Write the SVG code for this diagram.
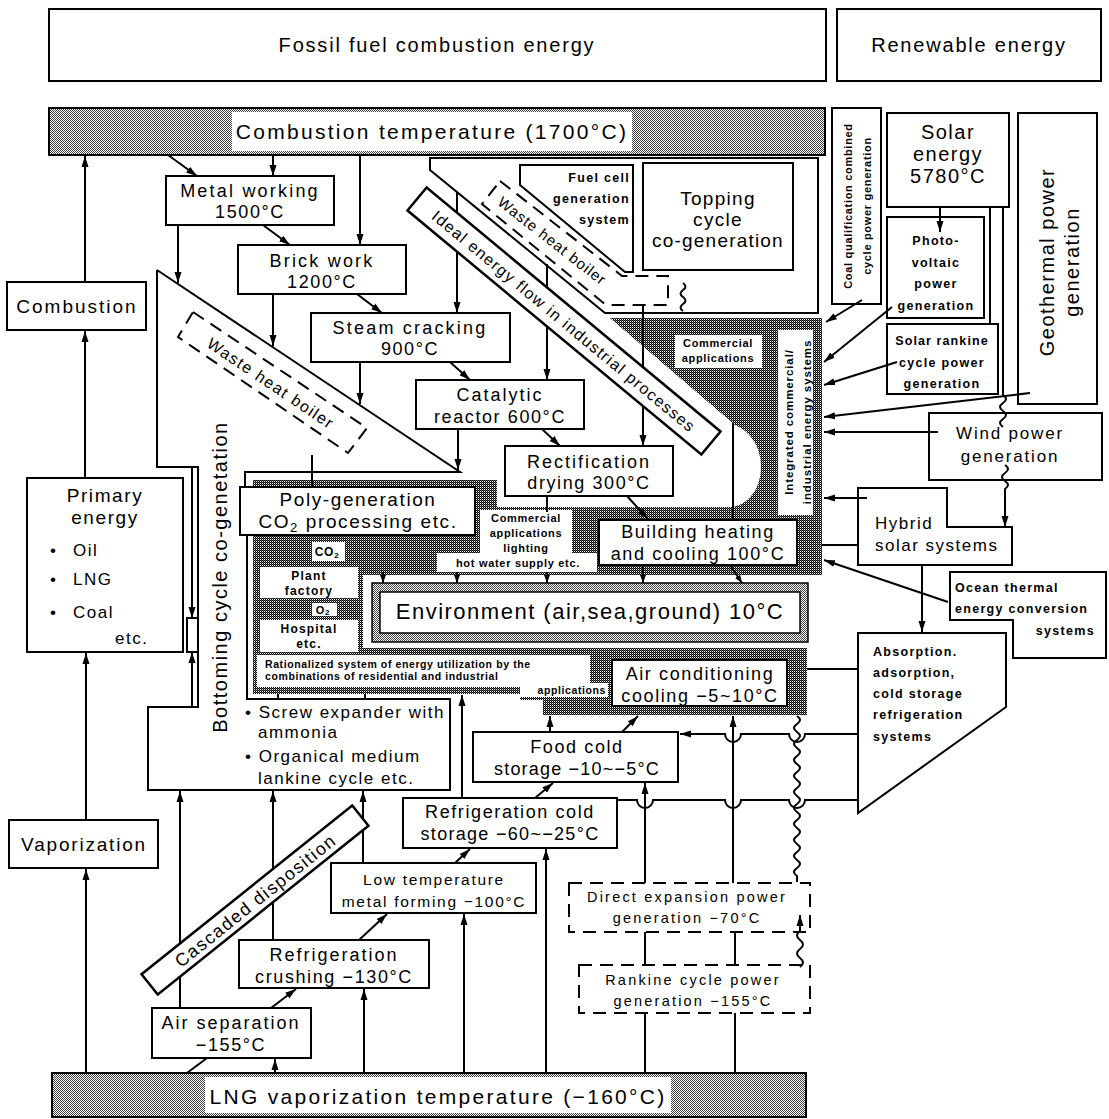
<svg xmlns="http://www.w3.org/2000/svg" width="1109" height="1119" viewBox="0 0 1109 1119">
<defs>
<style>
text{font-family:'Liberation Sans',Arial,Helvetica,sans-serif;fill:#000}
.b{fill:#fff;stroke:#000;stroke-width:2}
.o{fill:none;stroke:#000;stroke-width:2}
.d{fill:none;stroke:#000;stroke-width:2;stroke-dasharray:13 8}
.w{fill:#fff;stroke:none}
.L{font-size:20px;letter-spacing:1.8px;text-anchor:middle}
.T{font-size:21px;letter-spacing:2.3px;text-anchor:middle}
.m{font-size:18px;letter-spacing:1.6px;text-anchor:middle}
.u{font-size:17px;letter-spacing:1.5px}
.s{font-size:12.5px;font-weight:bold;letter-spacing:1.3px;text-anchor:middle}
.x{font-size:11px;font-weight:bold;letter-spacing:0.7px;text-anchor:middle}
.st{text-anchor:start}
.en{text-anchor:end}
#connectors path{fill:none;stroke:#000;stroke-width:2}
.ar{marker-end:url(#ah)}
.sa{marker-end:url(#ahs)}
</style>
<pattern id="lt" width="2" height="2" patternUnits="userSpaceOnUse"><rect width="2" height="2" fill="#fff"/><rect width="1" height="1" fill="#000" fill-opacity="0.75"/><rect x="1" y="1" width="1" height="1" fill="#000" fill-opacity="0.75"/></pattern>
<pattern id="dk" width="2" height="2" patternUnits="userSpaceOnUse"><rect width="2" height="2" fill="#fff"/><rect width="1" height="1" fill="#000"/><rect x="1" y="1" width="1" height="1" fill="#000"/><rect x="1" y="0" width="1" height="1" fill="#000" fill-opacity="0.65"/></pattern>
<marker id="ah" markerWidth="12" markerHeight="8" refX="11" refY="4" orient="auto" markerUnits="userSpaceOnUse"><path d="M0,0.5 L11,4 L0,7.5 Z" fill="#000"/></marker>
<marker id="ahs" markerWidth="9" markerHeight="6" refX="8" refY="3" orient="auto" markerUnits="userSpaceOnUse"><path d="M0,0 L8,3 L0,6 Z" fill="#000"/></marker>
</defs>
<rect width="1109" height="1119" fill="#fff"/>

<g id="fossil"><rect class="b" x="49" y="9" width="777" height="72"/><text class="L" x="437" y="52">Fossil fuel combustion energy</text></g>
<g id="renewable"><rect class="b" x="837" y="9" width="264" height="72"/><text class="L" x="969" y="52">Renewable energy</text></g>

<g id="combustion-temperature"><rect x="49" y="108" width="776" height="47" fill="url(#lt)" stroke="#000" stroke-width="2"/><rect class="w" x="232" y="112" width="400" height="39"/><text class="T" x="432" y="139">Combustion temperature (1700°C)</text></g>

<g id="lng-temperature"><rect x="52" y="1073" width="754" height="44" fill="url(#lt)" stroke="#000" stroke-width="2"/><rect class="w" x="205" y="1077" width="466" height="36"/><text class="T" x="438" y="1104">LNG vaporization temperature (−160°C)</text></g>

<g id="integrated-region"><path d="M610,318 L822,318 L822,575 L812,575 L812,648 L807,648 L807,715 L543,715 L543,700 L520,700 L520,694 L253,694 L253,480 L497,480 L497,507 L733,507 C768,500 772,440 735,425 Z" fill="url(#dk)"/></g>

<g id="topping-region"><path class="o" d="M430,170 L430,158 L818,158 L818,313 L605,313 Z"/></g>
<g id="fuel-cell"><path class="b" d="M520,165 L633,165 L633,272 L625,272 L520,185 Z"/><text class="s en" x="630" y="182">Fuel cell</text><text class="s en" x="630" y="203">generation</text><text class="s en" x="630" y="224">system</text></g>
<g id="topping"><rect class="b" x="643" y="163" width="150" height="107"/><text class="L" style="font-size:19px;letter-spacing:1.3px" x="718" y="205">Topping</text><text class="L" style="font-size:19px;letter-spacing:1.3px" x="718" y="226">cycle</text><text class="L" style="font-size:19px;letter-spacing:1.2px" x="718" y="247">co-generation</text></g>

<g id="bottoming-region"><path class="o" d="M157,270 L460,472 L245,472 L245,487 M247,535 L247,699 L450,699 L450,790 L148,790 L148,707 L198,707 L198,467 L157,467 L157,270"/><rect class="b" x="187" y="618" width="11" height="34"/><text class="L" style="letter-spacing:1.5px" transform="translate(227,577) rotate(-90)">Bottoming cycle co-genetation</text>
<text class="u" x="245" y="718">• Screw expander with</text><text class="u" x="258" y="738">ammonia</text><text class="u" x="245" y="762">• Organical medium</text><text class="u" x="258" y="784">lankine cycle etc.</text></g>

<g id="combustion"><rect class="b" x="7" y="282" width="139" height="48"/><text class="m" style="font-size:19px;letter-spacing:2px" x="77" y="313">Combustion</text></g>
<g id="primary-energy"><rect class="b" x="27" y="478" width="156" height="174"/><text class="m" style="font-size:19px" x="105" y="502">Primary</text><text class="m" style="font-size:19px" x="105" y="524">energy</text>
<text class="u" x="50" y="556">•</text><text class="u" x="73" y="556">Oil</text><text class="u" x="50" y="585">•</text><text class="u" x="73" y="585">LNG</text><text class="u" x="50" y="618">•</text><text class="u" x="73" y="618">Coal</text><text class="u" x="115" y="644">etc.</text></g>
<g id="vaporization"><rect class="b" x="9" y="820" width="149" height="48"/><text class="m" style="font-size:19px;letter-spacing:1.8px" x="84" y="851">Vaporization</text></g>

<g id="metal-working"><rect class="b" x="166" y="176" width="168" height="49"/><text class="m" style="letter-spacing:2.2px" x="250" y="197">Metal working</text><text class="m" x="250" y="218">1500°C</text></g>
<g id="brick-work"><rect class="b" x="238" y="245" width="168" height="49"/><text class="m" style="letter-spacing:2.2px" x="322" y="267">Brick work</text><text class="m" x="322" y="288">1200°C</text></g>
<g id="steam-cracking"><rect class="b" x="311" y="313" width="199" height="49"/><text class="m" style="letter-spacing:2.2px" x="410" y="334">Steam cracking</text><text class="m" x="410" y="355">900°C</text></g>
<g id="catalytic-reactor"><rect class="b" x="416" y="380" width="168" height="49"/><text class="m" style="letter-spacing:2px" x="500" y="401">Catalytic</text><text class="m" x="500" y="423">reactor 600°C</text></g>
<g id="rectification"><rect class="b" x="505" y="446" width="168" height="50"/><text class="m" style="letter-spacing:2px" x="589" y="468">Rectification</text><text class="m" x="589" y="489">drying 300°C</text></g>

<g id="poly-generation"><rect class="b" x="240" y="487" width="235" height="48"/><text class="m" style="font-size:19px" x="358" y="506">Poly-generation</text><text class="m" style="font-size:19px" x="358" y="528">CO<tspan font-size="13" dy="4">2</tspan><tspan dy="-4"> processing etc.</tspan></text></g>

<g id="commercial-lighting"><polygon class="w" points="480,510 572,510 572,553 597,553 597,572 437,572 437,553 480,553"/><text class="x" x="526" y="522">Commercial</text><text class="x" x="526" y="537">applications</text><text class="x" x="526" y="552">lighting</text><text class="x" x="518" y="567">hot water supply etc.</text></g>
<g id="building-heating"><rect class="b" x="599" y="520" width="198" height="45"/><text class="m" x="698" y="538">Building heating</text><text class="m" x="698" y="560">and cooling 100°C</text></g>
<g id="commercial-applications"><rect class="w" x="675" y="335" width="87" height="33"/><text class="x" x="718" y="347">Commercial</text><text class="x" x="718" y="362">applications</text></g>
<g id="integrated-label"><rect class="w" x="778" y="330" width="35" height="185"/><text class="x" style="font-size:11.5px;letter-spacing:0.9px" transform="translate(793,422) rotate(-90)">Integrated commercial/</text><text class="x" style="font-size:11.5px;letter-spacing:0.9px" transform="translate(811,422) rotate(-90)">industrial energy systems</text></g>

<g id="co2"><rect class="w" x="312" y="542" width="33" height="19"/><text class="x" style="font-size:12px" x="327" y="556">CO<tspan font-size="8" dy="2">2</tspan></text></g>
<g id="plant-factory"><rect class="w" x="260" y="567" width="98" height="31"/><text class="x" style="font-size:12px;letter-spacing:1.2px" x="309" y="580">Plant</text><text class="x" style="font-size:12px;letter-spacing:1.2px" x="309" y="595">factory</text></g>
<g id="o2"><rect class="w" x="312" y="603" width="25" height="13"/><text class="x" style="font-size:11px" x="323" y="614">O<tspan font-size="8" dy="1">2</tspan></text></g>
<g id="hospital"><rect class="w" x="260" y="620" width="98" height="32"/><text class="x" style="font-size:12px;letter-spacing:1.2px" x="309" y="633">Hospital</text><text class="x" style="font-size:12px;letter-spacing:1.2px" x="309" y="648">etc.</text></g>

<g id="environment"><rect class="w" x="363" y="575" width="449" height="73"/><rect x="372" y="583" width="436" height="59" fill="url(#lt)" stroke="#000" stroke-width="1.5"/><rect x="380" y="592" width="420" height="41" fill="#fff" stroke="#000" stroke-width="1.5"/><text class="L" style="font-size:22px;letter-spacing:1.5px" x="590" y="619">Environment (air,sea,ground) 10°C</text></g>

<g id="rationalized"><polygon class="w" points="257,655 590,655 590,683 608,683 608,697 520,697 520,687 257,687"/><text class="x st" style="font-size:10.5px;letter-spacing:0.6px" x="265" y="668">Rationalized system of energy utilization by the</text><text class="x st" style="font-size:10.5px;letter-spacing:0.6px" x="265" y="680">combinations of residential and industrial</text><text class="x en" style="font-size:10.5px;letter-spacing:0.6px" x="606" y="694">applications</text></g>
<g id="air-conditioning"><rect class="b" x="612" y="660" width="175" height="46"/><text class="m" x="700" y="680">Air conditioning</text><text class="m" x="700" y="702">cooling −5~10°C</text></g>

<g id="food-cold"><rect class="b" x="473" y="732" width="205" height="50"/><text class="m" x="577" y="753">Food cold</text><text class="m" style="letter-spacing:1.2px" x="577" y="775">storage −10~−5°C</text></g>
<g id="refrigeration-cold"><rect class="b" x="403" y="798" width="214" height="50"/><text class="m" x="510" y="818">Refrigeration cold</text><text class="m" style="letter-spacing:1.3px" x="510" y="840">storage −60~−25°C</text></g>
<g id="low-temperature"><rect class="b" x="331" y="863" width="205" height="50"/><text class="m" style="font-size:15.5px;letter-spacing:1.7px" x="434" y="885">Low temperature</text><text class="m" style="font-size:15.5px;letter-spacing:1.7px" x="434" y="907">metal forming −100°C</text></g>
<g id="refrigeration-crushing"><rect class="b" x="239" y="940" width="190" height="48"/><text class="m" style="letter-spacing:2px" x="334" y="961">Refrigeration</text><text class="m" x="334" y="983">crushing −130°C</text></g>
<g id="air-separation"><rect class="b" x="152" y="1008" width="159" height="50"/><text class="m" style="letter-spacing:2px" x="231" y="1029">Air separation</text><text class="m" x="231" y="1051">−155°C</text></g>
<g id="direct-expansion"><rect class="d" x="569" y="883" width="241" height="49"/><text class="m" style="font-size:14.5px;letter-spacing:2.2px" x="687" y="902">Direct expansion power</text><text class="m" style="font-size:14.5px;letter-spacing:2.2px" x="687" y="923">generation −70°C</text></g>
<g id="rankine"><rect class="d" x="579" y="965" width="231" height="48"/><text class="m" style="font-size:14.5px;letter-spacing:2.2px" x="693" y="985">Rankine cycle power</text><text class="m" style="font-size:14.5px;letter-spacing:2.2px" x="693" y="1006">generation −155°C</text></g>

<g id="coal-qualification"><rect class="b" x="832" y="108" width="49" height="196"/><text class="x" style="letter-spacing:0.7px" transform="translate(852,206) rotate(-90)">Coal qualification combined</text><text class="x" style="letter-spacing:0.7px" transform="translate(871,206) rotate(-90)">cycle power generation</text></g>
<g id="solar-energy"><rect class="b" x="887" y="113" width="122" height="94"/><text class="L" style="letter-spacing:1.5px" x="948" y="139">Solar</text><text class="L" style="letter-spacing:1.5px" x="948" y="161">energy</text><text class="L" style="letter-spacing:1.5px" x="948" y="183">5780°C</text></g>
<g id="photovoltaic"><rect class="b" x="887" y="217" width="97" height="101"/><text class="s" x="936" y="245">Photo-</text><text class="s" x="936" y="267">voltaic</text><text class="s" x="936" y="288">power</text><text class="s" x="936" y="310">generation</text></g>
<g id="solar-rankine"><rect class="b" x="887" y="324" width="111" height="70"/><text class="s" style="letter-spacing:1.1px" x="942" y="345">Solar rankine</text><text class="s" x="942" y="367">cycle power</text><text class="s" x="942" y="388">generation</text></g>
<g id="geothermal"><rect class="b" x="1018" y="113" width="79" height="291"/><text class="L" style="letter-spacing:1.5px" transform="translate(1054,262) rotate(-90)">Geothermal power</text><text class="L" style="letter-spacing:1.5px" transform="translate(1079,262) rotate(-90)">generation</text></g>
<g id="wind-power"><rect class="b" x="929" y="413" width="173" height="67"/><text class="m" style="font-size:17px;letter-spacing:1.8px" x="1010" y="439">Wind power</text><text class="m" style="font-size:17px;letter-spacing:1.8px" x="1010" y="462">generation</text></g>
<g id="hybrid-solar"><path class="b" d="M858,488 L947,488 L947,527 L1012,527 L1012,565 L858,565 Z"/><text class="u" x="875" y="529">Hybrid</text><text class="u" x="875" y="551">solar systems</text></g>
<g id="ocean-thermal"><path class="b" d="M950,572 L1106,572 L1106,658 L1013,658 L1013,620 L950,620 Z"/><text class="s st" x="955" y="592">Ocean thermal</text><text class="s st" x="955" y="613">energy conversion</text><text class="s en" x="1095" y="635">systems</text></g>
<g id="absorption"><path class="b" d="M858,633 L1006,633 L1006,707 L858,813 Z"/><text class="s st" x="873" y="656">Absorption.</text><text class="s st" x="873" y="677">adsorption,</text><text class="s st" x="873" y="698">cold storage</text><text class="s st" x="873" y="719">refrigeration</text><text class="s st" x="873" y="741">systems</text></g>

<g id="connectors">
<path class="ar" d="M85,282 L85,156"/>
<path class="ar" d="M85,478 L85,331"/>
<path class="ar" d="M86,820 L86,653"/>
<path class="ar" d="M86,1073 L86,869"/>
<path class="ar" d="M168,155 L197,176"/>
<path class="ar" d="M273,155 L273,176"/>
<path class="ar" d="M360,155 L360,245"/>
<path class="ar" d="M178,225 L178,283"/>
<path class="ar" d="M263,225 L290,245"/>
<path class="ar" d="M273,294 L273,346"/>
<path class="ar" d="M357,294 L382,313"/>
<path class="ar" d="M360,362 L360,404"/>
<path class="ar" d="M450,362 L470,380"/>
<path class="ar" d="M458,429 L458,470"/>
<path class="ar" d="M542,429 L560,446"/>
<path class="ar" d="M457,191 L457,313"/>
<path class="ar" d="M547,264 L547,380"/>
<path class="ar" d="M643,306 L643,446"/>
<path d="M547,496 L547,512"/>
<path class="ar" d="M627,496 L648,519"/>
<path d="M733,423 L733,520"/>
<path d="M683,283 q5,3.5 0,7 t0,7 t0,7 t0,7"/>
<path class="sa" d="M383,572 L383,583"/>
<path class="sa" d="M457,572 L457,583"/>
<path class="sa" d="M547,572 L547,583"/>
<path class="sa" d="M643,565 L643,583"/>
<path class="sa" d="M730,565 L742,583"/>
<path d="M312,455 L312,487"/>
<path class="ar" d="M192,467 L192,618"/>
<path class="ar" d="M192,707 L192,652"/>
<path d="M278,694 L278,699 M365,694 L365,699"/>
<path class="ar" d="M180,1008 L180,791"/>
<path class="ar" d="M273,940 L273,791"/>
<path class="ar" d="M363,863 L363,791"/>
<path class="ar" d="M462,798 L462,695"/>
<path class="ar" d="M550,732 L550,716"/>
<path class="ar" d="M622,732 L638,716"/>
<path class="ar" d="M535,798 L553,783"/>
<path class="ar" d="M455,863 L470,849"/>
<path class="ar" d="M546,1073 L546,849"/>
<path class="ar" d="M464,1073 L464,914"/>
<path class="ar" d="M359,940 L387,914"/>
<path class="ar" d="M364,1073 L364,989"/>
<path class="ar" d="M271,1008 L296,989"/>
<path class="ar" d="M275,1073 L275,1059"/>
<path d="M187,1073 L207,1058"/>
<path d="M645,1073 L645,1013 M645,965 L645,932"/>
<path class="ar" d="M645,883 L645,783"/>
<path d="M735,1073 L735,1013 M735,965 L735,932"/>
<path class="ar" d="M733,883 L733,716"/>
<path class="ar" d="M858,734 L805,734 a8,8 0 0,1 -16,0 L741,734 a8,8 0 0,1 -16,0 L680,734"/>
<path d="M858,800 L805,800 a8,8 0 0,1 -16,0 L741,800 a8,8 0 0,1 -16,0 L653,800 a8,8 0 0,1 -16,0 L617,800"/>
<path d="M807,669 L858,669"/>
<path d="M797,716 q6,4 0,8 t0,8 t0,8 t0,8 t0,8 t0,8 t0,8 t0,8 t0,8 t0,8 t0,8 t0,8 t0,8 t0,8 t0,8 t0,8 t0,8 t0,8 t0,8 t0,8 L797,882"/>
<path class="ar" d="M800,967 q6,-4.5 0,-9 t0,-9 t0,-9 t0,-9 L800,915"/>
<path class="ar" d="M922,565 L922,632"/>
<path class="ar" d="M948,602 L824,560"/>
<path class="ar" d="M867,498 L824,498"/>
<path d="M858,545 L822,545"/>
<path class="ar" d="M938,432 L824,432"/>
<path class="ar" d="M1030,393 L824,417"/>
<path class="ar" d="M897,362 L824,385"/>
<path class="ar" d="M892,307 L824,362"/>
<path class="ar" d="M862,300 L826,322"/>
<path class="ar" d="M940,207 L940,232"/>
<path d="M990,207 L990,324"/>
<path d="M1003,207 L1003,395 q6,4 0,8 t0,8 t0,8 t0,8"/>
<path class="ar" d="M1005,465 q6,4 0,8 t0,8 t0,8 L1005,527"/>
</g>

<g id="ideal-energy-flow" transform="translate(564,321) rotate(39.7)"><rect x="-191" y="-15" width="382" height="30" fill="#fff" stroke="#000" stroke-width="2.5"/><text class="m" style="font-size:16px;letter-spacing:1.3px" x="0" y="6">Ideal energy flow in industrial processes</text></g>
<g id="waste-heat-boiler-upper"><path class="d" d="M500,181 L622,276 L668,276 L668,305 L606,305 L482,204 Z"/><text class="m" style="font-size:15px;letter-spacing:1px" transform="translate(552,241) rotate(38)" x="0" y="5">Waste heat boiler</text></g>
<g id="waste-heat-boiler-lower"><path class="d" d="M193,312 L367,428 L348,453 L178,337 Z"/><text class="m" style="font-size:16px;letter-spacing:1.5px" transform="translate(271,383) rotate(34)" x="0" y="6">Waste heat boiler</text></g>
<g id="cascaded-disposition" transform="translate(255,900) rotate(-38.7)"><rect x="-135" y="-13" width="270" height="26" fill="#fff" stroke="#000" stroke-width="2.5"/><text class="m" style="font-size:18px;letter-spacing:1.5px" x="0" y="7">Cascaded disposition</text></g>
</svg>
